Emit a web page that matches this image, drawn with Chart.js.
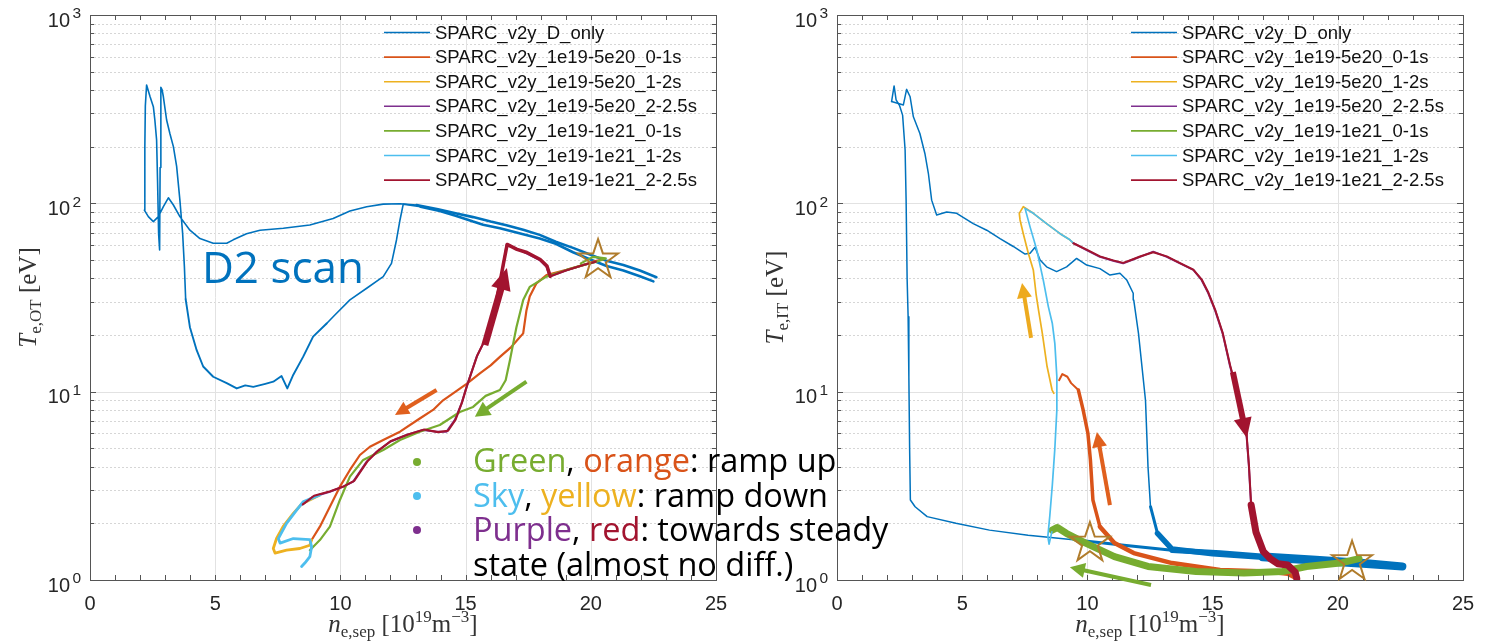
<!DOCTYPE html>
<html><head><meta charset="utf-8">
<script src="https://cdn.jsdelivr.net/npm/chart.js@4.4.1/dist/chart.umd.min.js"></script>
<style>
html,body{margin:0;padding:0;background:#fff;width:1491px;height:644px;overflow:hidden;position:relative;}
#c1{position:absolute;left:0;top:0;}
#c2{position:absolute;left:745px;top:0;}
.note{position:absolute;left:473px;font-family:'Open Sans',sans-serif;font-size:32.5px;line-height:32.5px;white-space:nowrap;color:#000;z-index:5;}
.dot{position:absolute;width:8px;height:8px;border-radius:50%;z-index:5;}
</style></head><body>
<canvas id="c1" width="745" height="644"></canvas>
<canvas id="c2" width="746" height="644"></canvas>
<div class="dot" style="left:413px;top:458px;background:#77AC30"></div>
<div class="dot" style="left:413px;top:492px;background:#4DBEEE"></div>
<div class="dot" style="left:413px;top:526px;background:#7E2F8E"></div>
<div class="note" style="top:444px"><span style="color:#77AC30">Green</span>, <span style="color:#D95319">orange</span>: ramp up</div>
<div class="note" style="top:478.5px"><span style="color:#4DBEEE">Sky</span>, <span style="color:#EDB120">yellow</span>: ramp down</div>
<div class="note" style="top:513px"><span style="color:#7E2F8E">Purple</span>, <span style="color:#A2142F">red</span>: towards steady</div>
<div class="note" style="top:547.5px">state (almost no diff.)</div>
<script>
// ---------- DATA ----------
const seriesNames = ['SPARC_v2y_D_only','SPARC_v2y_1e19-5e20_0-1s','SPARC_v2y_1e19-5e20_1-2s','SPARC_v2y_1e19-5e20_2-2.5s','SPARC_v2y_1e19-1e21_0-1s','SPARC_v2y_1e19-1e21_1-2s','SPARC_v2y_1e19-1e21_2-2.5s'];
const seriesColors = ['#0072BD','#D95319','#EDB120','#7E2F8E','#77AC30','#4DBEEE','#A2142F'];
const xTickValues = [0,5,10,15,20,25];
const xTickLabels = ['0','5','10','15','20','25'];
const yDecades = [1,10,100,1000];
const yExponents = ['0','1','2','3'];

// Outer target (OT) panel, [n_e,sep, T_e] pairs in plotting order
const ot_Donly = [[22.62,40.5],[21.96,44],[21.3,47],[20.63,49.5],[19.96,53.5],[19.29,58],[18.6,62.5],[17.96,68],[17.3,72.5],[16.63,76.5],[16.0,80],[15.3,84.5],[14.6,88.5],[13.9,93],[13.04,98],[12.38,99.5],[11.71,99],[11.05,96],[10.38,91],[9.71,83],[8.78,76.7],[7.72,73.7],[6.79,72],[6.25,69],[5.72,64],[5.46,61.4],[4.92,61.4],[4.39,65],[3.99,72],[3.59,85],[3.33,98],[3.13,107],[2.93,96],[2.73,85],[2.53,80],[2.33,85],[2.17,92],
 [2.19,200],[2.21,330],[2.26,425],[2.4,368],[2.53,326],[2.59,277],[2.66,217],[2.7,128],[2.74,69],[2.78,56.5],[2.8,155],[2.83,413],[2.88,400],[2.93,368],[3.06,277],[3.19,235],[3.33,200],[3.46,157],[3.59,104],[3.7,69],[3.77,46],[3.82,31],[3.99,22],[4.26,16.6],[4.52,13.6],[4.92,12],[5.46,11.1],[5.86,10.4],[6.2,10.8],[6.52,10.6],[7.0,11.0],[7.32,11.3],[7.65,12.1],[7.88,10.4],[8.12,12.3],[8.51,15.3],[8.91,19.6],[9.45,23],[9.71,25],[10.38,30.7],[11.05,35.4],[11.71,40.8],[12.04,48],[12.24,63.9],[12.38,81.6],[12.51,99],
 [13.2,96],[13.97,91],[14.6,86],[15.3,80],[15.7,77],[16.37,73.7],[17.03,70],[17.96,65],[18.6,61],[19.29,55],[19.96,50.5],[20.63,46.5],[21.3,44],[21.96,41],[22.5,38.5]];
const ot_5e20_01 = [[8.85,1.63],[9.18,1.92],[9.58,2.45],[9.98,3.13],[10.38,3.84],[10.78,4.61],[11.18,5.1],[11.71,5.54],[12.38,6.13],[13.17,7.2],[13.7,8.0],[14.1,9.0],[14.6,10.0],[15.04,11.0],[15.57,12.5],[16.0,13.8],[16.37,15.3],[16.83,17.3],[17.3,20.4],[17.43,27],[17.56,32],[17.83,37.6],[18.23,41.6],[19.03,44.3],[19.69,47],[20.09,49],[20.5,50.5]];
const ot_5e20_12 = [[9.18,2.83],[8.45,2.53],[8.12,2.26],[7.71,1.92],[7.45,1.66],[7.32,1.47],[7.39,1.39],[7.85,1.44],[8.38,1.47],[8.78,1.53],[8.85,1.63]];
const ot_5e20_225 = [[8.45,2.5],[8.91,2.77],[9.58,2.94],[10.11,3.13],[10.51,3.33],[11.05,4.25],[11.45,4.8],[11.98,5.42],[12.64,5.89],[13.3,6.26],[13.84,6.13],[14.24,6.13],[14.57,7.08],[14.84,8.67],[15.04,10.6],[15.44,15.3],[15.84,19.6],[16.23,30.7],[16.5,46],[16.63,60],[17.03,57.5],[17.43,54.3],[17.96,50],[18.23,46],[18.36,40.8],[19.0,44],[19.7,47],[20.2,49]];
const ot_1e21_01 = [[8.78,1.44],[9.18,1.63],[9.58,1.92],[9.98,2.66],[10.38,3.54],[10.91,4.34],[11.71,4.9],[12.38,5.54],[13.17,6.13],[13.97,6.65],[14.77,7.8],[15.3,8.3],[15.8,9.5],[16.37,10.2],[16.6,11.5],[16.77,14.7],[16.9,18],[17.03,22],[17.3,30.7],[17.56,36],[18.23,40.8],[19.03,44.3],[19.69,47],[20.23,49],[20.6,51],[20.1,52],[19.6,48]];
const ot_1e21_12 = [[8.45,1.18],[8.58,1.23],[8.78,1.33],[8.85,1.5],[8.78,1.64],[8.12,1.66],[7.59,1.57],[7.52,1.66],[7.85,2.0],[8.25,2.35],[8.51,2.6],[9.18,2.83]];
const ot_1e21_225 = [[8.5,2.52],[8.95,2.8],[9.6,2.96],[10.15,3.15],[10.55,3.36],[11.1,4.3],[11.5,4.85],[12.0,5.45],[12.7,5.92],[13.35,6.3],[13.9,6.1],[14.3,6.2],[14.6,7.1],[14.86,8.8],[15.06,10.8],[15.46,15.5],[15.86,19.9],[16.25,31],[16.5,47],[16.66,60.5],[17.05,57],[17.45,54.8],[17.98,50.3],[18.25,46.5],[18.38,41],[19.0,44],[19.7,47],[20.2,49]];

// Inner target (IT) panel
const it_Donly = [[2.18,347],[2.28,420],[2.36,354],[2.5,330],[2.62,294],[2.72,192],[2.76,104],[2.8,40],[2.84,25],[2.87,12],[2.9,5],[2.93,2.66],[3.12,2.45],[3.6,2.17],[4.75,2.0],[6.09,1.84],[7.63,1.73],[9.54,1.63],[11.46,1.53],[13.38,1.44],[15.3,1.39],[17.21,1.33],[19.13,1.28],[21.05,1.23],[22.58,1.18],[21.0,1.22],[19.0,1.27],[17.0,1.32],[15.0,1.38],[13.38,1.46],[12.8,1.77],[12.52,2.45],[12.42,4.0],[12.32,9.0],[12.04,20.4],[11.85,30.7],[11.83,33.3],[11.57,39.2],[11.3,42.5],[10.9,41.6],[10.5,45],[9.97,47],[9.57,51],[9.17,46],[8.77,43.4],[8.37,46],[8.11,50],[7.91,58.4],[7.71,54.3],[7.51,53.8],[7.04,59],[6.51,65],[5.98,72],[5.44,78],[4.78,88.5],[4.38,90],[3.98,86.7],[3.78,104],[3.65,144],[3.51,184],[3.31,235],[3.05,288],[2.92,368],[2.78,403],[2.65,333],[2.52,337],[2.18,347]];
const it_5e20_01 = [[8.87,11.5],[9.0,12.4],[9.2,12.0],[9.35,11.1],[9.64,10.2],[9.83,8.0],[10.02,6.0],[10.12,4.34],[10.22,2.66],[10.5,1.92],[11.08,1.57],[11.85,1.39],[13.38,1.23],[15.3,1.13],[17.21,1.11],[18.0,1.08],[18.36,1.02]];
const it_5e20_12 = [[8.66,9.8],[8.59,10.2],[8.39,13.6],[8.2,20.4],[8.05,27],[7.95,33],[7.84,44.3],[7.64,54.3],[7.44,69],[7.31,81.6],[7.28,88.5],[7.44,96],[7.84,88.5],[8.37,78],[8.91,69],[9.3,64],[9.44,61.4]];
const it_5e20_225 = [[9.44,61.4],[9.97,56.5],[10.5,52],[11.03,49.6],[11.43,48],[11.77,50],[12.1,52],[12.63,55.4],[13.17,52],[13.7,48],[14.23,44.3],[14.56,39.2],[14.83,33.3],[15.1,27],[15.4,20.4],[15.7,13.6],[16.06,9.0],[16.35,6.0],[16.45,4.0],[16.54,2.45],[16.73,1.77],[17.02,1.39],[17.6,1.23],[18.0,1.15],[18.36,1.04]];
const it_1e21_01 = [[8.59,1.84],[8.8,1.9],[9.16,1.77],[9.93,1.57],[11.08,1.33],[12.42,1.18],[14.34,1.11],[16.25,1.09],[17.79,1.11],[18.75,1.18],[20.09,1.23],[20.85,1.3]];
const it_1e21_12 = [[8.58,1.8],[8.47,1.55],[8.42,1.7],[8.5,2.2],[8.6,3.2],[8.7,5],[8.78,8],[8.78,12],[8.7,18],[8.6,23],[8.44,28.3],[8.24,39],[7.98,56.5],[7.71,75],[7.51,94],[7.84,88.5],[8.37,78],[8.91,69],[9.3,64],[9.44,61.4]];
const it_1e21_225 = [[9.44,61.4],[9.97,56.8],[10.5,52.3],[11.03,49.8],[11.43,48.3],[11.77,50.2],[12.1,52.2],[12.63,55],[13.17,52.3],[13.7,48.2],[14.23,44.5],[14.56,39.5],[14.83,33.6],[15.1,27.3],[15.4,20.6],[15.7,13.8],[16.06,9.1],[16.35,6.1],[16.45,4.1],[16.54,2.5],[16.73,1.8],[17.02,1.42],[17.3,1.3],[17.6,1.22],[18.0,1.2],[18.3,1.1],[18.36,1.02]];

// Annotations (data coordinates)
const otArrowFrom = [[15.77,17.7],[13.84,10.2],[17.43,11.3]];
const otArrowTo   = [[16.65,45.4],[12.18,7.52],[15.37,7.36]];
const itArrowFrom = [[7.75,19.3],[10.9,2.5],[15.81,12.7],[12.54,0.94]];
const itArrowTo   = [[7.39,37.8],[10.38,6.1],[16.37,5.68],[9.3,1.17]];
const otStars = [[20.29,50]];
const itStars = [[10.1,1.57],[20.57,1.25]];
const otNote = [4.47,37.9];

// ---------- STYLE ----------
const otArrowStyle = [{c:'#A2142F',w:7,hl:22,hw:10},{c:'#E0601E',w:4,hl:14,hw:7},{c:'#77AC30',w:4,hl:15,hw:8}];
const itArrowStyle = [{c:'#EDAA1F',w:4,hl:15,hw:7.5},{c:'#E0601E',w:4,hl:15,hw:7.5},{c:'#A2142F',w:6,hl:20,hw:9},{c:'#77AC30',w:4,hl:15,hw:7.5}];
// [base width, [[xmin,xmax,ymax,width],...]]
const otWidths = [[1.6,[[12.9,23,200,2.6],[3.9,9.5,30,1.9]]],[2.2,[]],[2.8,[]],[2.0,[]],[2.2,[]],[2.8,[]],[2.1,[[16.3,18.4,70,3.5]]]];
const itWidths = [[1.5,[[9,13,2.2,3],[13,17,2.2,5.5],[17,23,2.2,8]]],[2.0,[[9.5,10.6,12,3.5],[10.6,19,2,4.5]]],[1.7,[]],[2.0,[]],[2.0,[[8,22,2.5,7]]],[1.7,[]],[2.0,[[16.6,19,2,7]]]];

const sansFont = '"Liberation Sans", Arial, sans-serif';
const serifFont = '"Liberation Serif", "Times New Roman", serif';

function widthFn(spec){
  return ctx => {
    const xm=(ctx.p0.parsed.x+ctx.p1.parsed.x)/2, ym=Math.min(ctx.p0.parsed.y,ctx.p1.parsed.y);
    for(const r of spec[1]) if(xm>=r[0]&&xm<r[1]&&ym<=r[2]) return r[3];
    return spec[0];
  };
}
function makeSets(list, widths){
  return list.map((pairs,i)=>({
    label: seriesNames[i],
    data: pairs.map(p=>({x:p[0],y:p[1]})),
    borderColor: seriesColors[i],
    backgroundColor: seriesColors[i],
    borderWidth: widths[i][0],
    segment:{borderWidth: widthFn(widths[i])},
    pointRadius:0, tension:0, fill:false,
    borderJoinStyle:'round', borderCapStyle:'round',
    order: 10-i
  }));
}

function hline(ctx,x0,y0,x1,y1){ctx.beginPath();ctx.moveTo(x0,y0);ctx.lineTo(x1,y1);ctx.stroke();}

const framePlugin = {
  id:'frame',
  beforeDatasetsDraw(chart){
    const {ctx, chartArea:a, scales:{x,y}} = chart;
    ctx.save();
    ctx.lineWidth=1;
    ctx.strokeStyle='#d6d6d6'; ctx.setLineDash([2,2]);
    for(let d=0; d<yDecades.length-1; d++) for(let k=2;k<=9;k++){
      const py=Math.round(y.getPixelForValue(yDecades[d]*k))+0.5; hline(ctx,a.left,py,a.right,py);
    }
    ctx.setLineDash([]); ctx.strokeStyle='#e2e2e2';
    for(let d=1; d<yDecades.length-1; d++){const py=Math.round(y.getPixelForValue(yDecades[d]))+0.5; hline(ctx,a.left,py,a.right,py);}
    for(let i=1;i<xTickValues.length-1;i++){const px=Math.round(x.getPixelForValue(xTickValues[i]))+0.5; hline(ctx,px,a.top,px,a.bottom);}
    ctx.restore();
  },
  afterDraw(chart){
    const {ctx, chartArea:a, scales:{x,y}} = chart;
    const o = chart.options.plugins.frame;
    ctx.save();
    ctx.strokeStyle='#555'; ctx.lineWidth=1;
    ctx.strokeRect(Math.round(a.left)+0.5, Math.round(a.top)+0.5, Math.round(a.right-a.left), Math.round(a.bottom-a.top));
    for(let v=1; v<25; v++){
      const px=Math.round(x.getPixelForValue(v))+0.5;
      hline(ctx,px,a.bottom,px,a.bottom-5); hline(ctx,px,a.top,px,a.top+5);
    }
    for(let d=0; d<yDecades.length-1; d++) for(let k=1;k<=9;k++){
      const py=Math.round(y.getPixelForValue(yDecades[d]*k))+0.5;
      const L = k===1?6:4;
      hline(ctx,a.left,py,a.left+L,py); hline(ctx,a.right,py,a.right-L,py);
    }
    ctx.fillStyle='#262626'; ctx.textBaseline='alphabetic';
    ctx.font='20px '+sansFont; ctx.textAlign='center';
    xTickValues.forEach((v,i)=>ctx.fillText(xTickLabels[i], x.getPixelForValue(v), a.bottom+30));
    yDecades.forEach((v,i)=>{
      const py=y.getPixelForValue(v);
      ctx.textAlign='right';
      ctx.font='15.5px '+sansFont; ctx.fillText(yExponents[i], a.left-9, py+3.3);
      ctx.font='20px '+sansFont; ctx.fillText('10', a.left-20, py+11.7);
    });
    ctx.fillStyle='#333';
    const drawPieces=(pieces, cx, by)=>{
      let w=0; for(const p of pieces){ctx.font=p.f; p.w=ctx.measureText(p.t).width; w+=p.w;}
      let xx=cx-w/2; ctx.textAlign='left';
      for(const p of pieces){ctx.font=p.f; ctx.fillText(p.t,xx,by+p.dy); xx+=p.w;}
    };
    drawPieces([
      {t:'n',f:'italic 25px '+serifFont,dy:0},{t:'e,sep',f:'17px '+serifFont,dy:5},
      {t:' [10',f:'25px '+serifFont,dy:0},{t:'19',f:'17px '+serifFont,dy:-10},
      {t:'m',f:'25px '+serifFont,dy:0},{t:'\u22123',f:'17px '+serifFont,dy:-10},{t:']',f:'25px '+serifFont,dy:0}
    ], (a.left+a.right)/2, a.bottom+52);
    ctx.save();
    ctx.translate(a.left-54, (a.top+a.bottom)/2);
    ctx.rotate(-Math.PI/2);
    drawPieces([
      {t:'T',f:'italic 25px '+serifFont,dy:0},{t:o.ysub,f:'17px '+serifFont,dy:5},{t:' [eV]',f:'25px '+serifFont,dy:0}
    ], 0, 0);
    ctx.restore();
    ctx.font='18.5px '+sansFont; ctx.textAlign='left'; ctx.textBaseline='middle';
    chart.data.datasets.forEach((ds,i)=>{
      const yy=a.top+17.5+i*24.6;
      ctx.strokeStyle=ds.borderColor; ctx.lineWidth=1.6;
      hline(ctx,a.right-332,yy,a.right-286,yy);
      ctx.fillStyle='#111'; ctx.fillText(ds.label,a.right-281,yy+1);
    });
    o.from.forEach((f,i)=>{
      const s=o.astyle[i];
      const x0=x.getPixelForValue(f[0]), y0=y.getPixelForValue(f[1]);
      const x1=x.getPixelForValue(o.to[i][0]), y1=y.getPixelForValue(o.to[i][1]);
      const ang=Math.atan2(y1-y0,x1-x0), ux=Math.cos(ang), uy=Math.sin(ang);
      const bx=x1-ux*s.hl, by=y1-uy*s.hl;
      ctx.strokeStyle=s.c; ctx.fillStyle=s.c; ctx.lineWidth=s.w; ctx.lineCap='butt';
      hline(ctx,x0,y0,bx+ux*2,by+uy*2);
      ctx.beginPath(); ctx.moveTo(x1,y1); ctx.lineTo(bx-uy*s.hw,by+ux*s.hw); ctx.lineTo(bx+uy*s.hw,by-ux*s.hw); ctx.closePath(); ctx.fill();
    });
    o.stars.forEach(st=>{
      const cx=x.getPixelForValue(st[0]), cy=y.getPixelForValue(st[1]);
      ctx.beginPath();
      for(let k=0;k<10;k++){
        const r = k%2===0?21:8.2, t=-Math.PI/2+k*Math.PI/5;
        const px=cx+r*Math.cos(t), py=cy+r*Math.sin(t);
        if(k===0) ctx.moveTo(px,py); else ctx.lineTo(px,py);
      }
      ctx.closePath(); ctx.strokeStyle='#B07C2C'; ctx.lineWidth=2; ctx.lineJoin='miter'; ctx.stroke();
    });
    if(o.note){
      ctx.font='44px "Open Sans", sans-serif'; ctx.fillStyle='#0072BD'; ctx.textAlign='left'; ctx.textBaseline='alphabetic';
      ctx.fillText('D2 scan', x.getPixelForValue(o.note[0]), y.getPixelForValue(o.note[1]));
    }
    ctx.restore();
  }
};

function build(id, sets, yW, rightPad, extra){
  return new Chart(document.getElementById(id), {
    type:'line',
    data:{datasets:sets},
    options:{
      responsive:false, animation:false, devicePixelRatio:1,
      layout:{padding:{left:0,right:rightPad,top:15,bottom:0}},
      scales:{
        x:{type:'linear',min:0,max:25,ticks:{display:false},grid:{display:false},border:{display:false},afterFit(s){s.height=64;}},
        y:{type:'logarithmic',min:1,max:1000,ticks:{display:false},grid:{display:false},border:{display:false},afterFit(s){s.width=yW;}}
      },
      plugins:{legend:{display:false},tooltip:{enabled:false},frame:extra}
    },
    plugins:[framePlugin]
  });
}

build('c1', makeSets([ot_Donly,ot_5e20_01,ot_5e20_12,ot_5e20_225,ot_1e21_01,ot_1e21_12,ot_1e21_225], otWidths), 90, 29,
  {ysub:'e,OT', from:otArrowFrom, to:otArrowTo, astyle:otArrowStyle, stars:otStars, note:otNote});
build('c2', makeSets([it_Donly,it_5e20_01,it_5e20_12,it_5e20_225,it_1e21_01,it_1e21_12,it_1e21_225], itWidths), 92, 28,
  {ysub:'e,IT', from:itArrowFrom, to:itArrowTo, astyle:itArrowStyle, stars:itStars, note:null});
</script>
</body></html>
